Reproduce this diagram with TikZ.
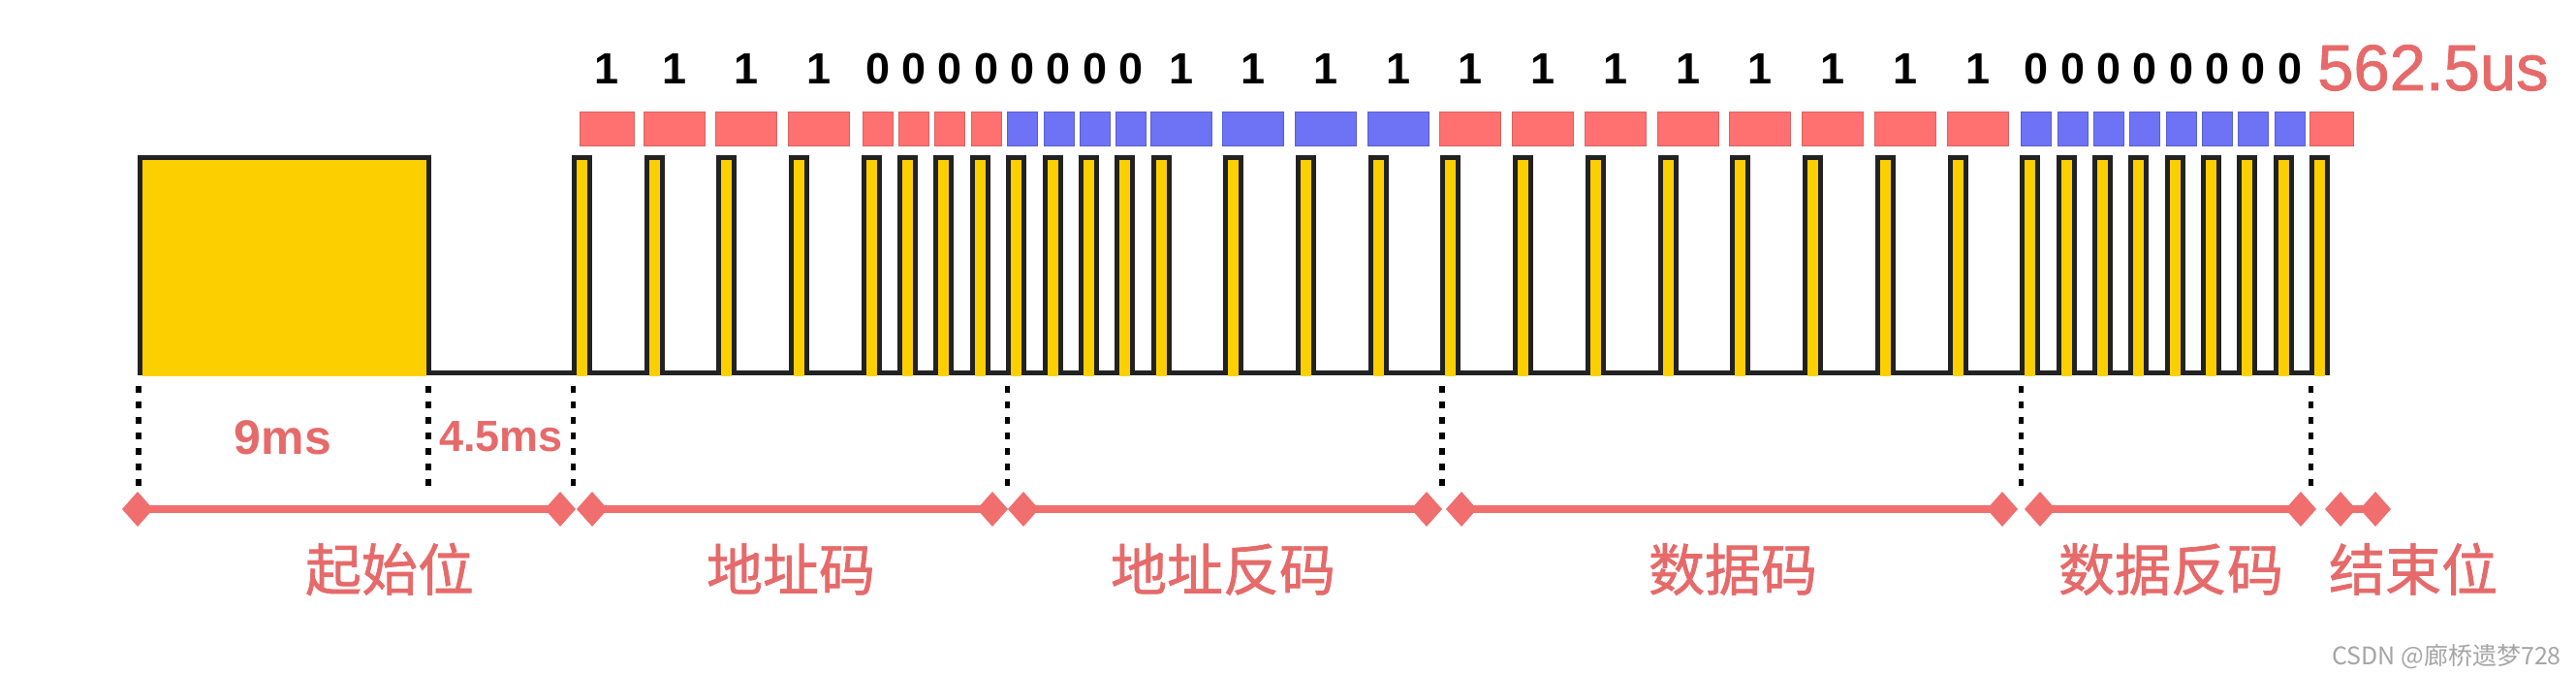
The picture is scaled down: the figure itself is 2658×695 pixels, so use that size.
\documentclass[tikz,border=0pt]{standalone}
\usepackage{fontspec}
\setmainfont{Liberation Sans}
\newfontfamily\medfont[FakeBold=1.2]{Liberation Sans}
\newfontfamily\cjk{Noto Sans CJK SC}
\newfontfamily\cjkmed[FakeBold=1.2]{Noto Sans CJK SC}
\usetikzlibrary{shapes.geometric}
\definecolor{wave}{RGB}{34,34,34}
\definecolor{pulsey}{RGB}{252,208,0}
\definecolor{redbox}{RGB}{255,112,112}
\definecolor{redboxline}{RGB}{215,100,100}
\definecolor{bluebox}{RGB}{110,114,245}
\definecolor{blueboxline}{RGB}{90,95,205}
\definecolor{segc}{RGB}{240,110,110}
\definecolor{lblc}{RGB}{230,106,106}
\definecolor{markc}{RGB}{165,165,165}
\def\U{18.68}
\def\XO{144}
\def\plist{24,28,32,36,40,42,44,46,48,50,52,54,56,60,64,68,72,76,80,84,88,92,96,100,104,106,108,110,112,114,116,118,120}
\tikzset{
  wavestyle/.style={draw=wave,line width=5pt,line join=miter},
  rbox/.style={fill=redbox,draw=redboxline,line width=1pt},
  bbox/.style={fill=bluebox,draw=blueboxline,line width=1pt},
  digit/.style={font=\bfseries\fontsize{45}{50}\selectfont,text=black,anchor=base,inner sep=0pt},
  dotline/.style={draw=black,line width=5.5pt,dash pattern=on 7pt off 9pt},
  endpt/.style={inner sep=0pt,minimum size=0pt,outer sep=0pt},
  diafill/.style={fill=segc},
  segline/.style={draw=segc,line width=8pt},
  seglabel/.style={font=\cjkmed\fontsize{58}{60}\selectfont,text=lblc,anchor=base,inner sep=0pt},
  timelabel/.style={text=lblc,anchor=base,inner sep=0pt},
}
\begin{document}
\begin{tikzpicture}[x=1pt,y=-1pt]
\useasboundingbox (0,0) rectangle (2658,695);
\fill[white] (0,0) rectangle (2658,695);

% yellow fills
\fill[pulsey] (146.5,165.5) rectangle (439.5,388);
\foreach \t in \plist {
  \fill[pulsey] ({\XO+\t*\U+2.5},165.5) rectangle ({\XO+\t*\U+13.5},388);
}
% waveform
\draw[wavestyle] (144,386.5) -- (144,163) -- (442,163) -- (442,384)
  \foreach \t in \plist { -- ({\XO+\t*\U},384) -- ({\XO+\t*\U},163) -- ({\XO+\t*\U+16},163) -- ({\XO+\t*\U+16},384) }
  -- ({\XO+120*\U+16},386.5);

% bit boxes and digits
% address: 1111 0000 (red)
\draw[rbox] ({\XO+24*\U+6},116) rectangle ({\XO+24*\U+62},151);
\node[digit] (d24) at ({\XO+24*\U+34},87) {1};
\foreach \t in {28,32,36} {
  \draw[rbox] ({\XO+\t*\U-3},116) rectangle ({\XO+\t*\U+60},151);
  \node[digit] (d\t) at ({\XO+\t*\U+28.5},87) {1};
}
\foreach \t in {40,42,44,46} {
  \draw[rbox] ({\XO+\t*\U-1},116) rectangle ({\XO+\t*\U+30},151);
  \node[digit] (d\t) at ({\XO+\t*\U+14.5},87) {0};
}
% address inverse: 0000 1111 (blue)
\foreach \t in {48,50,52,54} {
  \draw[bbox] ({\XO+\t*\U-1},116) rectangle ({\XO+\t*\U+30},151);
  \node[digit] (d\t) at ({\XO+\t*\U+14.5},87) {0};
}
\foreach \t in {56,60,64,68} {
  \draw[bbox] ({\XO+\t*\U-3},116) rectangle ({\XO+\t*\U+60},151);
  \node[digit] (d\t) at ({\XO+\t*\U+28.5},87) {1};
}
% data: 11111111 (red)
\foreach \t in {72,76,80,84,88,92,96,100} {
  \draw[rbox] ({\XO+\t*\U-3},116) rectangle ({\XO+\t*\U+60},151);
  \node[digit] (d\t) at ({\XO+\t*\U+28.5},87) {1};
}
% data inverse: 00000000 (blue)
\foreach \t in {104,106,108,110,112,114,116,118} {
  \draw[bbox] ({\XO+\t*\U-1},116) rectangle ({\XO+\t*\U+30},151);
  \node[digit] (d\t) at ({\XO+\t*\U+14.5},87) {0};
}
% end bit
\draw[rbox] ({\XO+120*\U-2},116) rectangle ({\XO+120*\U+43},151);
\node[text=lblc,font=\medfont\fontsize{67}{70}\selectfont,anchor=base west,inner sep=0pt] (us) at (2391,93) {562.5us};

% dotted lines
\foreach \t/\n in {0/a,16/b,24/c,48/d,72/e,104/f,120/g} {
  \coordinate (top\n) at ({\XO+\t*\U-1},398);
  \coordinate (bot\n) at ({\XO+\t*\U-1},506);
  \draw[dotline] (top\n) -- (bot\n);
}

% time labels
\node[timelabel,font=\bfseries\fontsize{50}{52}\selectfont] (t9) at (292,468) {9ms};
\node[timelabel,font=\bfseries\fontsize{45}{48}\selectfont] (t45) at (517,465) {4.5ms};

% segments with diamond ends
\foreach \n/\a/\b in {1/142/578,2/611/1024,3/1056/1472,4/1508/2066,5/2105/2374,6/2415/2451} {
  \node[endpt] (s\n a) at (\a,525) {};
  \node[endpt] (s\n b) at (\b,525) {};
  \draw[segline] (s\n a) -- (s\n b);
  \fill[diafill] (s\n a) +(-16,0) -- +(0,-18) -- +(16,0) -- +(0,18) -- cycle;
  \fill[diafill] (s\n b) +(-16,0) -- +(0,-18) -- +(16,0) -- +(0,18) -- cycle;
}
\node[seglabel] (l1) at (402,609) {起始位};
\node[seglabel] (l2) at (816,609) {地址码};
\node[seglabel] (l3) at (1262,609) {地址反码};
\node[seglabel] (l4) at (1788,609) {数据码};
\node[seglabel] (l5) at (2240,609) {数据反码};
\node[seglabel] (l6) at (2490,609) {结束位};

\node[font=\cjk\fontsize{25}{26}\selectfont,text=markc,anchor=base east,inner sep=0pt] (wm) at (2643,685) {CSDN @廊桥遗梦728};
\end{tikzpicture}
\end{document}
